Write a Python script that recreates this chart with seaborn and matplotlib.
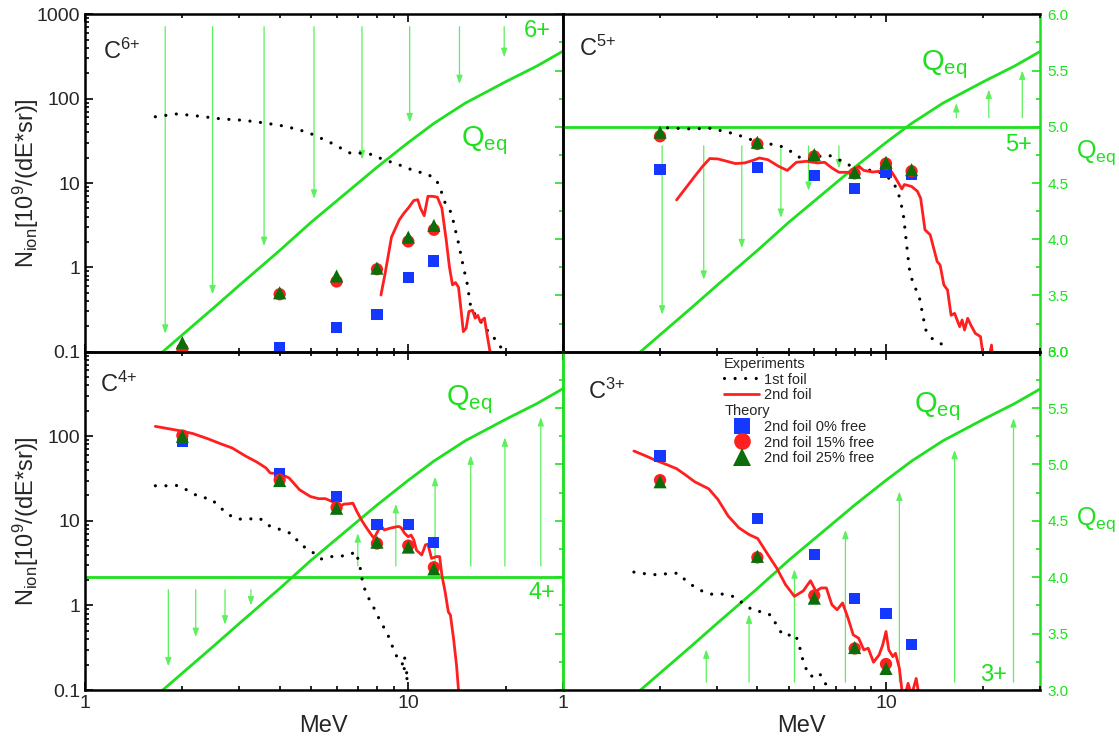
import numpy as np
import matplotlib
matplotlib.use("Agg")
import matplotlib.pyplot as plt
from matplotlib.lines import Line2D
from matplotlib.ticker import FuncFormatter, MultipleLocator, LogLocator, NullFormatter
import seaborn as sns

# ---------------- data ----------------
# equilibrium charge curve (right axis)
Qeq_E = [1.74, 2.0, 2.5, 3.0, 4.0, 5.0, 6.0, 8.0, 10.0, 12.0, 15.0, 20.0, 25.0, 30.0]
Qeq = [3.00, 3.15, 3.39, 3.59, 3.90, 4.15, 4.34, 4.64, 4.86, 5.03, 5.21, 5.40, 5.54, 5.67]

# theory energies (MeV)
E_theory = [2, 4, 6, 8, 10, 12]

# C6+
c6_sq = [np.nan, 0.112, 0.195, 0.278, 0.76, 1.19]
c6_ci = [0.108, 0.48, 0.68, 0.95, 2.03, 2.79]
c6_tr = [0.128, 0.50, 0.79, 0.98, 2.28, 3.14]
c6_f1_E = [1.65, 1.93, 2.25, 2.64, 3.08, 3.58, 4.17, 4.88, 5.72, 6.66, 7.19, 7.76, 8.37, 9.03, 9.75, 10.5,
           11.4, 12.2, 12.6, 13.0, 13.6, 13.9, 14.3, 14.8, 15.2, 15.6, 16.0, 16.6, 17.3, 18.3, 19.6]
c6_f1_N = [61, 66, 62, 57.5, 55.5, 51.6, 47, 40, 30.4, 22.3, 22.7, 21.7, 18.9, 17.3, 15.5, 13.8,
           12.9, 11.0, 8.3, 5.8, 4.4, 3.05, 1.94, 1.02, 0.65, 0.34, 0.285, 0.24, 0.19, 0.151, 0.105]
c6_f2_E = [8.23, 8.48, 8.87, 9.38, 9.70, 10.0, 10.4, 10.7, 10.9, 11.2, 11.5, 11.9, 12.3, 12.7, 13.1,
           13.4, 13.7, 14.0, 14.3, 14.6, 14.8, 15.1, 15.4, 15.8, 16.1, 16.4, 16.7, 17.2, 17.5, 17.9]
c6_f2_N = [0.47, 0.85, 2.28, 3.66, 4.4, 5.05, 6.2, 6.35, 5.05, 4.1, 6.95, 6.95, 6.8, 5.05, 2.12,
           1.02, 0.62, 0.66, 0.58, 0.285, 0.173, 0.19, 0.30, 0.31, 0.25, 0.27, 0.227, 0.25, 0.165, 0.1]
c6_arr_E = [1.77, 2.48, 3.58, 5.11, 7.19, 10.1, 14.4, 19.8]
c6_arr_from = [5.89, 5.89, 5.89, 5.89, 5.89, 5.89, 5.89, 5.89]
c6_arr_to = [3.16, 3.51, 3.94, 4.36, 4.71, 5.04, 5.38, 5.62]

# C5+
c5_sq = [14.4, 15.1, 12.2, 8.7, 13.5, 12.6]
c5_ci = [35.8, 29.0, 20.7, 13.0, 17.0, 13.8]
c5_tr = [40.0, 30.4, 21.7, 13.4, 17.6, 14.4]
c5_f1_E = [2.11, 2.48, 2.90, 3.13, 3.38, 3.65, 3.94, 4.28, 4.65, 4.96, 5.34, 5.76, 6.22, 6.63, 7.15, 7.72, 8.33,
           8.99, 9.70, 10.5, 10.9, 11.1, 11.3, 11.4, 11.6, 11.8, 12.0, 12.3, 12.7, 13.1, 13.3, 14.0, 14.7, 15.7]
c5_f1_N = [45, 43.8, 44.6, 41.1, 38.5, 34.9, 31.3, 29.3, 28.0, 25.3, 20.4, 19.3, 20.7, 21.5, 18.9, 16.2, 15.4,
           14.0, 13.2, 10.5, 7.75, 5.95, 4.4, 3.29, 1.77, 0.98, 0.74, 0.58, 0.43, 0.233, 0.178, 0.138, 0.126, 0.11]
c5_f2_E = [2.25, 2.40, 2.56, 2.71, 2.85, 3.02, 3.22, 3.42, 3.65, 3.89, 4.06, 4.31, 4.65, 4.95, 5.28, 5.69, 6.14,
           6.46, 6.80, 7.15, 7.82, 8.23, 8.54, 9.10, 9.58, 9.95, 10.3, 10.7, 11.2, 11.4, 12.0, 12.5, 12.8, 13.2,
           13.7, 14.0, 14.4, 14.7, 15.1, 15.5, 15.9, 16.3, 16.9, 17.2, 17.5, 17.9, 18.3, 18.9, 19.6, 19.9, 20.5,
           21.2, 21.5]
c5_f2_N = [6.3, 8.7, 12.0, 15.8, 19.5, 19.3, 18.1, 17.0, 17.3, 18.6, 19.8, 18.9, 15.8, 14.1, 17.6, 18.1, 17.3,
           17.6, 15.1, 13.4, 13.4, 15.8, 14.1, 13.5, 13.8, 13.2, 14.4, 11.5, 8.5, 9.6, 9.1, 8.0, 6.6, 2.79,
           2.43, 1.77, 1.17, 1.07, 0.62, 0.54, 0.27, 0.285, 0.198, 0.238, 0.181, 0.249, 0.207, 0.165, 0.151, 0.10,
           0.06, 0.12, 0.06]
c5_arr_E = [2.03, 2.73, 3.58, 4.73, 5.76, 7.15, 16.5, 20.8, 26.4]
c5_arr_from = [4.83, 4.83, 4.83, 4.83, 4.83, 4.83, 5.08, 5.08, 5.08]
c5_arr_to = [3.33, 3.64, 3.92, 4.19, 4.43, 4.63, 5.21, 5.33, 5.50]

# C4+
c4_sq = [87, 36.7, 19.5, 9.0, 9.0, 5.6]
c4_ci = [102, 30.6, 14.4, 5.4, 5.1, 2.83]
c4_tr = [100, 30, 14.1, 5.6, 4.9, 2.7]
c4_f1_E = [1.65, 1.78, 1.93, 2.09, 2.26, 2.45, 2.76, 2.96, 3.21, 3.46, 3.74, 4.06, 4.37, 4.65, 4.97, 5.37, 5.80,
           6.25, 6.58, 6.87, 7.06, 7.24, 7.47, 7.77, 8.07, 8.38, 8.70, 9.15, 9.50, 9.89, 9.38, 10.1, 9.62, 10.2]
c4_f1_N = [26, 26, 26.2, 22.7, 19.1, 18.3, 12.0, 10.5, 10.5, 10.8, 8.6, 7.8, 7.0, 5.2, 4.5, 3.54, 3.78,
           3.85, 3.96, 4.33, 3.15, 1.77, 1.30, 0.99, 0.73, 0.56, 0.425, 0.258, 0.225, 0.246, 0.179, 0.179, 0.139, 0.134]
c4_f2_E = [1.65, 1.81, 1.95, 2.15, 2.39, 2.64, 2.85, 3.15, 3.40, 3.63, 3.74, 4.01, 4.28, 4.61, 4.98, 5.28, 5.54,
           5.80, 6.10, 6.34, 6.54, 6.74, 6.92, 7.19, 7.47, 7.83, 8.22, 8.43, 8.79, 9.33, 9.50, 9.75, 10.0, 10.2,
           10.4, 10.6, 11.0, 11.3, 11.5, 11.8, 12.2, 12.5, 12.7, 13.0, 13.3, 13.5, 13.8, 14.1, 14.3]
c4_f2_N = [131, 123, 117, 108, 94, 81, 72.8, 57.9, 49.6, 42.2, 36.8, 36.1, 32.1, 23.3, 19.4, 18.3, 18.3,
           17.0, 14.8, 15.8, 15.9, 16.2, 13.1, 10.0, 8.0, 6.2, 8.8, 7.8, 8.2, 8.6, 8.3, 7.1, 6.5, 6.8,
           5.95, 4.5, 3.95, 5.2, 5.3, 3.6, 3.78, 3.78, 2.29, 1.45, 0.84, 0.77, 0.41, 0.196, 0.1]
c4_arr_E = [1.81, 2.20, 2.71, 3.26, 6.98, 9.15, 12.1, 15.6, 19.9, 25.7]
c4_arr_from = [3.89, 3.89, 3.89, 3.89, 4.10, 4.10, 4.10, 4.10, 4.10, 4.10]
c4_arr_to = [3.21, 3.47, 3.58, 3.75, 4.39, 4.65, 4.89, 5.08, 5.24, 5.42]

# C3+
c3_sq = [58.5, 10.6, 3.96, 1.22, 0.81, 0.342]
c3_ci = [30.3, 3.7, 1.31, 0.31, 0.203, np.nan]
c3_tr = [29.0, 3.81, 1.22, 0.318, 0.18, np.nan]
c3_f1_E = [1.66, 1.80, 1.94, 2.10, 2.27, 2.44, 2.64, 2.87, 3.09, 3.36, 3.60, 3.89, 4.22, 4.47, 4.59, 4.83,
           5.24, 5.38, 5.48, 5.59, 5.84, 6.22, 6.46, 6.89]
c3_f1_N = [2.48, 2.37, 2.31, 2.37, 2.41, 1.87, 1.53, 1.36, 1.37, 1.28, 1.07, 0.865, 0.834, 0.74, 0.564, 0.437,
           0.457, 0.348, 0.26, 0.195, 0.144, 0.16, 0.12, 0.105]
c3_f2_E = [1.66, 1.79, 1.94, 2.09, 2.25, 2.40, 2.56, 2.83, 3.02, 3.25, 3.51, 3.77, 4.01, 4.30, 4.59, 4.89, 5.21,
           5.55, 5.84, 6.07, 6.30, 6.54, 6.80, 7.06, 7.34, 7.63, 7.92, 8.23, 8.54, 8.81, 9.15, 9.52, 9.77, 10.0,
           10.2, 10.5, 10.7, 11.0, 11.2, 11.4, 11.7, 12.0, 12.4, 12.7]
c3_f2_N = [67, 59.5, 51.9, 46.5, 41.4, 34.8, 29.0, 23.9, 17.9, 11.4, 8.26, 6.89, 6.18, 4.06, 2.77, 1.76, 1.28,
           1.49, 1.96, 1.47, 1.61, 1.61, 1.02, 0.889, 1.07, 0.708, 0.449, 0.41, 0.298, 0.312, 0.213, 0.26, 0.342,
           0.492, 0.298, 0.248, 0.272, 0.181, 0.1, 0.079, 0.12, 0.087, 0.137, 0.079]
c3_arr_E = [2.78, 3.77, 5.21, 7.49, 11.0, 16.3, 24.8]
c3_arr_from = [3.07, 3.07, 3.07, 3.07, 3.07, 3.07, 3.07]
c3_arr_to = [3.36, 3.67, 4.07, 4.42, 4.76, 5.13, 5.41]

# ---------------- style ----------------
sns.set_theme(style="ticks")
plt.rcParams['font.family'] = ['Liberation Sans', 'DejaVu Sans']
plt.rcParams['mathtext.fontset'] = 'custom'
plt.rcParams['mathtext.rm'] = 'Liberation Sans'
plt.rcParams['mathtext.it'] = 'Liberation Sans:italic'
plt.rcParams['mathtext.default'] = 'regular'

GREEN = '#1fe01f'
ARROW = '#5cf05c'
RED = '#ff1f1f'
BLUE = '#1438ff'
DKGREEN = '#0b6e0b'
DOTS = (0, (0.01, 3.3))

fig = plt.figure(figsize=(11.19, 7.45), dpi=100)

W = 0.4267
rects = {
    'C6': [0.0760, 0.5279, W, 0.4529],
    'C5': [0.5029, 0.5279, W, 0.4529],
    'C4': [0.0760, 0.0738, W, 0.4541],
    'C3': [0.5029, 0.0738, W, 0.4541],
}


def draw_panel(key, f1_E, f1_N, f2_E, f2_N, sq, ci, tr, arr_E, arr_from, arr_to,
               q_level, q_text, ion_label, c_pos, qlab_pos, plus_pos, right_col, bottom_row):
    ax = fig.add_axes(rects[key])
    ax.set_xscale('log')
    ax.set_yscale('log')
    ax2 = ax.twinx()
    ax.set_zorder(ax2.get_zorder() + 1)
    ax.patch.set_visible(False)

    # right axis: equilibrium charge
    sns.lineplot(x=Qeq_E, y=Qeq, ax=ax2, sort=False, estimator=None, color=GREEN, lw=2)
    if q_level is not None:
        ax2.axhline(q_level, color=GREEN, lw=2)
    for xe, y0, y1 in zip(arr_E, arr_from, arr_to):
        ax2.annotate('', xy=(xe, y1), xytext=(xe, y0),
                     arrowprops=dict(arrowstyle='-|>,head_length=0.5,head_width=0.18',
                                     color=ARROW, lw=0.9, shrinkA=0, shrinkB=0, mutation_scale=10))
    ax2.text(qlab_pos[0], qlab_pos[1], 'Q$_{eq}$', color=GREEN, fontsize=21, ha='left', va='baseline')
    ax2.text(plus_pos[0], plus_pos[1], q_text, color=GREEN, fontsize=17, ha='right', va='center')

    # experiments
    sns.lineplot(x=f1_E, y=f1_N, ax=ax, sort=False, estimator=None, color='black', lw=2.3,
                 linestyle=DOTS, dash_capstyle='round')
    sns.lineplot(x=f2_E, y=f2_N, ax=ax, sort=False, estimator=None, color=RED, lw=2)
    # theory
    sns.scatterplot(x=E_theory, y=sq, ax=ax, marker='s', s=64, color=BLUE, edgecolor='none', zorder=4)
    sns.scatterplot(x=E_theory, y=ci, ax=ax, marker='o', s=78, color=RED, edgecolor='none', zorder=5)
    sns.scatterplot(x=E_theory, y=tr, ax=ax, marker='^', s=90, color=DKGREEN, edgecolor='none', zorder=6)

    ax.text(c_pos[0], c_pos[1], ion_label, transform=ax.transAxes, fontsize=17, ha='left', va='center')

    ax.set_xlim(1, 30)
    ax.set_ylim(0.1, 1000)
    ax2.set_ylim(3, 6)

    # main axis ticks
    ax.xaxis.set_major_locator(LogLocator(base=10))
    ax.xaxis.set_minor_locator(LogLocator(base=10, subs=np.arange(2, 10)))
    ax.yaxis.set_major_locator(LogLocator(base=10))
    ax.yaxis.set_minor_locator(LogLocator(base=10, subs=np.arange(2, 10)))
    ax.xaxis.set_minor_formatter(NullFormatter())
    ax.yaxis.set_minor_formatter(NullFormatter())
    ax.xaxis.set_major_formatter(FuncFormatter(lambda v, p: f'{v:g}'))
    if bottom_row:
        ax.yaxis.set_major_formatter(FuncFormatter(lambda v, p: '' if v > 500 else f'{v:g}'))
    else:
        ax.yaxis.set_major_formatter(FuncFormatter(lambda v, p: f'{v:g}'))
    ax.tick_params(which='both', direction='in', top=True, right=False, left=not right_col,
                   labelleft=not right_col, labelbottom=bottom_row, labelsize=14, width=1.2, color='black')
    ax.tick_params(which='major', length=6)
    ax.tick_params(which='minor', length=3)

    # right axis ticks
    ax2.yaxis.set_major_locator(MultipleLocator(0.5))
    ax2.yaxis.set_minor_locator(MultipleLocator(0.25))
    ax2.yaxis.set_major_formatter(FuncFormatter(lambda v, p: f'{v:.1f}'))
    ax2.tick_params(axis='y', which='both', direction='in', colors=GREEN, labelright=right_col,
                    labelsize=11, width=1.2, pad=5)
    ax2.tick_params(axis='y', which='major', length=6)
    ax2.tick_params(axis='y', which='minor', length=3)
    ax2.set_ylabel('')
    ax2.set_xlabel('')

    # spines
    for s in ['top', 'bottom', 'left']:
        ax2.spines[s].set_visible(False)
    ax.spines['right'].set_visible(False)
    for s in ax.spines.values():
        s.set_linewidth(1.8)
        s.set_color('black')
    ax2.spines['right'].set_linewidth(1.8)
    ax2.spines['right'].set_color(GREEN if (right_col or bottom_row) else 'black')
    if right_col and bottom_row:
        ax.spines['left'].set_color(GREEN)

    ax.set_xlabel('MeV' if bottom_row else '', fontsize=17, labelpad=2)
    if not right_col:
        ax.set_ylabel('N$_{ion}$[10$^{9}$/(dE*sr)]', fontsize=17)
        ax.yaxis.set_label_coords(-0.092, 0.5)
    else:
        ax.set_ylabel('')
        ax2.text(1.074, qlab_pos[2], 'Q$_{eq}$', transform=ax2.get_yaxis_transform(),
                 color=GREEN, fontsize=18, ha='left', va='center')
    return ax, ax2


draw_panel('C6', c6_f1_E, c6_f1_N, c6_f2_E, c6_f2_N, c6_sq, c6_ci, c6_tr,
           c6_arr_E, c6_arr_from, c6_arr_to, None, '6+', 'C$^{6{+}}$',
           (0.038, 0.89), (14.6, 4.83, None), (27.5, 5.85), False, False)
draw_panel('C5', c5_f1_E, c5_f1_N, c5_f2_E, c5_f2_N, c5_sq, c5_ci, c5_tr,
           c5_arr_E, c5_arr_from, c5_arr_to, 5.0, '5+', 'C$^{5{+}}$',
           (0.035, 0.90), (12.8, 5.50, 4.77), (28.2, 4.84), True, False)
draw_panel('C4', c4_f1_E, c4_f1_N, c4_f2_E, c4_f2_N, c4_sq, c4_ci, c4_tr,
           c4_arr_E, c4_arr_from, c4_arr_to, 4.0, '4+', 'C$^{4{+}}$',
           (0.031, 0.905), (13.1, 5.53, None), (28.6, 3.86), False, True)
ax3, ax3b = draw_panel('C3', c3_f1_E, c3_f1_N, c3_f2_E, c3_f2_N, c3_sq, c3_ci, c3_tr,
                       c3_arr_E, c3_arr_from, c3_arr_to, None, '3+', 'C$^{3{+}}$',
                       (0.052, 0.882), (12.2, 5.46, 4.51), (23.6, 3.13), True, True)

# legend in the C3+ panel
handles = [
    Line2D([], [], ls='none'),
    Line2D([], [], color='black', lw=2.3, ls=DOTS, dash_capstyle='round'),
    Line2D([], [], color=RED, lw=2),
    Line2D([], [], ls='none'),
    Line2D([], [], ls='none', marker='s', markersize=11, color=BLUE, markeredgewidth=0),
    Line2D([], [], ls='none', marker='o', markersize=12, color=RED, markeredgewidth=0),
    Line2D([], [], ls='none', marker='^', markersize=13, color=DKGREEN, markeredgewidth=0),
]
labels = ['Experiments', '1st foil', '2nd foil', 'Theory',
          '2nd foil 0% free', '2nd foil 15% free', '2nd foil 25% free']
leg = ax3.legend(handles, labels, loc='upper left', bbox_to_anchor=(0.338, 0.985), frameon=False,
                 fontsize=10.5, handlelength=2.4, handletextpad=0.3, labelspacing=0.12,
                 borderpad=0, borderaxespad=0)
try:
    for col in leg._legend_handle_box.get_children():
        for row in col.get_children():
            da, ta = row.get_children()
            if ta.get_text() in ('Experiments', 'Theory'):
                da.set_width(0)
                row.sep = 0
except Exception:
    pass

fig.savefig('out.png', dpi=100)
